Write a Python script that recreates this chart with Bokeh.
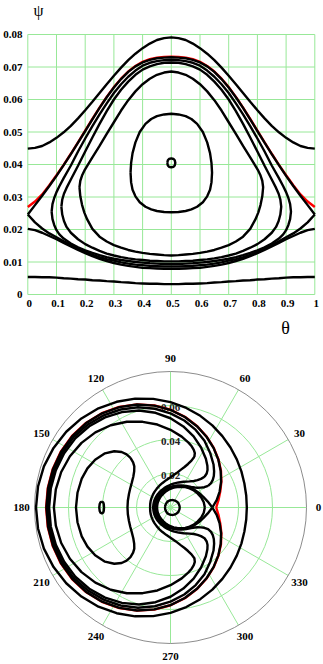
import numpy as np
from bokeh.plotting import figure
from bokeh.layouts import column
from bokeh.models import Range1d
from bokeh.core.properties import value
from bokeh.embed import file_html
from bokeh.resources import INLINE

# ---------------- data ----------------
X_TICKS = [0, 0.1, 0.2, 0.3, 0.4, 0.5, 0.6, 0.7, 0.8, 0.9, 1.0]
X_LABELS = ["0", "0.1", "0.2", "0.3", "0.4", "0.5", "0.6", "0.7", "0.8", "0.9", "1"]
Y_TICKS = [0, 0.01, 0.02, 0.03, 0.04, 0.05, 0.06, 0.07, 0.08]
Y_LABELS = ["0", "0.01", "0.02", "0.03", "0.04", "0.05", "0.06", "0.07", "0.08"]
X_NAME = "θ"
Y_NAME = "ψ"
ANGLE_TICKS = [0, 30, 60, 90, 120, 150, 180, 210, 240, 270, 300, 330]
RADIAL_TICKS = [0.02, 0.04, 0.06]
RADIAL_LABELS = ["0.02", "0.04", "0.06"]
RADIAL_MAX = 0.08

# open curves, sampled on a common theta grid
THETA = [0, 0.025, 0.05, 0.075, 0.1, 0.125, 0.15, 0.175, 0.2, 0.225, 0.25, 0.275, 0.3,
         0.325, 0.35, 0.375, 0.4, 0.425, 0.45, 0.475, 0.5, 0.525, 0.55, 0.575, 0.6,
         0.625, 0.65, 0.675, 0.7, 0.725, 0.75, 0.775, 0.8, 0.825, 0.85, 0.875, 0.9,
         0.925, 0.95, 0.975, 1.0]
PSI_TOP = [0.0449, 0.0451, 0.0457, 0.0468, 0.0482, 0.0499, 0.0519, 0.0542, 0.0567, 0.0593,
           0.0620, 0.0647, 0.0673, 0.0698, 0.0721, 0.0741, 0.0758, 0.0772, 0.0783, 0.0789,
           0.0791, 0.0789, 0.0783, 0.0772, 0.0758, 0.0741, 0.0721, 0.0698, 0.0673, 0.0647,
           0.0620, 0.0593, 0.0567, 0.0542, 0.0519, 0.0499, 0.0482, 0.0468, 0.0457, 0.0451, 0.0449]
PSI_RED = [0.0269, 0.0286, 0.0308, 0.0336, 0.0367, 0.0399, 0.0433, 0.0468, 0.0504, 0.0540,
           0.0575, 0.0608, 0.0638, 0.0664, 0.0686, 0.0703, 0.0716, 0.0724, 0.0729, 0.0731,
           0.0732, 0.0731, 0.0729, 0.0724, 0.0716, 0.0703, 0.0686, 0.0664, 0.0638, 0.0608,
           0.0575, 0.0540, 0.0504, 0.0468, 0.0433, 0.0399, 0.0367, 0.0336, 0.0308, 0.0286, 0.0269]
PSI_SEP_UP = [0.0246, 0.0275, 0.0304, 0.0334, 0.0365, 0.0398, 0.0432, 0.0467, 0.0503, 0.0539,
              0.0574, 0.0607, 0.0637, 0.0663, 0.0685, 0.0702, 0.0714, 0.0722, 0.0727, 0.0729,
              0.0730, 0.0729, 0.0727, 0.0722, 0.0714, 0.0702, 0.0685, 0.0663, 0.0637, 0.0607,
              0.0574, 0.0539, 0.0503, 0.0467, 0.0432, 0.0398, 0.0365, 0.0334, 0.0304, 0.0275, 0.0246]
PSI_SEP_LO = [0.0246, 0.0222, 0.0203, 0.0188, 0.0176, 0.0164, 0.0152, 0.0141, 0.0131, 0.0122,
              0.0115, 0.0109, 0.0104, 0.0099, 0.0095, 0.0092, 0.0090, 0.0088, 0.0087, 0.0086,
              0.0086, 0.0086, 0.0087, 0.0088, 0.0090, 0.0092, 0.0095, 0.0099, 0.0104, 0.0109,
              0.0115, 0.0122, 0.0131, 0.0141, 0.0152, 0.0164, 0.0176, 0.0188, 0.0203, 0.0222, 0.0246]
PSI_UNDER = [0.0202, 0.0198, 0.0190, 0.0180, 0.0170, 0.0159, 0.0148, 0.0137, 0.0127, 0.0118,
             0.0110, 0.0103, 0.0097, 0.0092, 0.0088, 0.0085, 0.0082, 0.0081, 0.0080, 0.0079,
             0.0079, 0.0079, 0.0080, 0.0081, 0.0082, 0.0085, 0.0088, 0.0092, 0.0097, 0.0103,
             0.0110, 0.0118, 0.0127, 0.0137, 0.0148, 0.0159, 0.0170, 0.0180, 0.0190, 0.0198, 0.0202]
PSI_BOTTOM = [0.0054, 0.0054, 0.0053, 0.0053, 0.0052, 0.0050, 0.0049, 0.0047, 0.0046, 0.0044,
              0.0043, 0.0041, 0.0040, 0.0038, 0.0037, 0.0035, 0.0034, 0.0033, 0.0033, 0.0032,
              0.0032, 0.0032, 0.0033, 0.0033, 0.0034, 0.0035, 0.0037, 0.0038, 0.0040, 0.0041,
              0.0043, 0.0044, 0.0046, 0.0047, 0.0049, 0.0050, 0.0052, 0.0053, 0.0053, 0.0054, 0.0054]

# closed curves: theta samples with upper and lower branch
C1_T = [0.083, 0.086, 0.092, 0.1, 0.11, 0.125, 0.15, 0.175, 0.2, 0.225, 0.25, 0.275, 0.3, 0.325,
        0.35, 0.375, 0.4, 0.425, 0.45, 0.475, 0.5, 0.525, 0.55, 0.575, 0.6, 0.625, 0.65, 0.675,
        0.7, 0.725, 0.75, 0.775, 0.8, 0.825, 0.85, 0.875, 0.89, 0.9, 0.908, 0.914, 0.917]
C1_UP = [0.0255, 0.0278, 0.0297, 0.0315, 0.0333, 0.0358, 0.0397, 0.0440, 0.0480, 0.0518, 0.0554,
         0.0588, 0.0620, 0.0647, 0.0670, 0.0689, 0.0704, 0.0713, 0.0718, 0.0721, 0.0722, 0.0721,
         0.0718, 0.0713, 0.0704, 0.0689, 0.0670, 0.0647, 0.0620, 0.0588, 0.0554, 0.0518, 0.0480,
         0.0440, 0.0397, 0.0358, 0.0333, 0.0315, 0.0297, 0.0278, 0.0255]
C1_LO = [0.0255, 0.0232, 0.0214, 0.0198, 0.0185, 0.0172, 0.0157, 0.0145, 0.0136, 0.0128, 0.0121,
         0.0115, 0.0110, 0.0106, 0.0103, 0.0100, 0.0098, 0.0096, 0.0095, 0.0094, 0.0094, 0.0094,
         0.0095, 0.0096, 0.0098, 0.0100, 0.0103, 0.0106, 0.0110, 0.0115, 0.0121, 0.0128, 0.0136,
         0.0145, 0.0157, 0.0172, 0.0185, 0.0198, 0.0214, 0.0232, 0.0255]

C2_T = [0.117, 0.12, 0.126, 0.135, 0.15, 0.175, 0.2, 0.225, 0.25, 0.275, 0.3, 0.325, 0.35, 0.375,
        0.4, 0.425, 0.45, 0.475, 0.5, 0.525, 0.55, 0.575, 0.6, 0.625, 0.65, 0.675, 0.7, 0.725,
        0.75, 0.775, 0.8, 0.825, 0.85, 0.865, 0.874, 0.88, 0.883]
C2_UP = [0.0270, 0.0292, 0.0310, 0.0328, 0.0354, 0.0396, 0.0440, 0.0483, 0.0525, 0.0564, 0.0600,
         0.0630, 0.0655, 0.0676, 0.0692, 0.0702, 0.0709, 0.0713, 0.0714, 0.0713, 0.0709, 0.0702,
         0.0692, 0.0676, 0.0655, 0.0630, 0.0600, 0.0564, 0.0525, 0.0483, 0.0440, 0.0396, 0.0354,
         0.0328, 0.0310, 0.0292, 0.0270]
C2_LO = [0.0270, 0.0246, 0.0226, 0.0208, 0.0190, 0.0170, 0.0155, 0.0144, 0.0134, 0.0126, 0.0120,
         0.0115, 0.0111, 0.0108, 0.0106, 0.0104, 0.0103, 0.0102, 0.0102, 0.0102, 0.0103, 0.0104,
         0.0106, 0.0108, 0.0111, 0.0115, 0.0120, 0.0126, 0.0134, 0.0144, 0.0155, 0.0170, 0.0190,
         0.0208, 0.0226, 0.0246, 0.0270]

C3_T = [0.180, 0.183, 0.189, 0.197, 0.207, 0.225, 0.25, 0.275, 0.3, 0.325, 0.35, 0.375, 0.4,
        0.425, 0.45, 0.475, 0.5, 0.525, 0.55, 0.575, 0.6, 0.625, 0.65, 0.675, 0.7, 0.725, 0.75,
        0.775, 0.793, 0.803, 0.811, 0.817, 0.820]
C3_UP = [0.0330, 0.0350, 0.0366, 0.0381, 0.0396, 0.0422, 0.0457, 0.0494, 0.0530, 0.0566, 0.0598,
         0.0625, 0.0647, 0.0664, 0.0676, 0.0683, 0.0686, 0.0683, 0.0676, 0.0664, 0.0647, 0.0625,
         0.0598, 0.0566, 0.0530, 0.0494, 0.0457, 0.0422, 0.0396, 0.0381, 0.0366, 0.0350, 0.0330]
C3_LO = [0.0330, 0.0302, 0.0276, 0.0252, 0.0231, 0.0202, 0.0178, 0.0163, 0.0152, 0.0144, 0.0137,
         0.0132, 0.0128, 0.0125, 0.0123, 0.0121, 0.0120, 0.0121, 0.0123, 0.0125, 0.0128, 0.0132,
         0.0137, 0.0144, 0.0152, 0.0163, 0.0178, 0.0202, 0.0231, 0.0252, 0.0276, 0.0302, 0.0330]

C4_T = [0.358, 0.36, 0.365, 0.375, 0.39, 0.41, 0.43, 0.45, 0.475, 0.5,
        0.525, 0.55, 0.57, 0.59, 0.61, 0.625, 0.635, 0.64, 0.642]
C4_UP = [0.0375, 0.0405, 0.0435, 0.0468, 0.0500, 0.0525, 0.0540, 0.0549, 0.0554, 0.0556,
         0.0554, 0.0549, 0.0540, 0.0525, 0.0500, 0.0468, 0.0435, 0.0405, 0.0375]
C4_LO = [0.0375, 0.0345, 0.0322, 0.0302, 0.0284, 0.0270, 0.0262, 0.0257, 0.0254, 0.0253,
         0.0254, 0.0257, 0.0262, 0.0270, 0.0284, 0.0302, 0.0322, 0.0345, 0.0375]

C5_T = [0.486, 0.488, 0.492, 0.5, 0.508, 0.512, 0.514]
C5_UP = [0.0405, 0.0413, 0.0417, 0.0419, 0.0417, 0.0413, 0.0405]
C5_LO = [0.0405, 0.0397, 0.0393, 0.0391, 0.0393, 0.0397, 0.0405]

# ---------------- styling ----------------
GREEN = "#98e898"
FONT = "Liberation Serif"
LW = 2.4
W = 323

open_black = [PSI_TOP, PSI_SEP_UP, PSI_SEP_LO, PSI_UNDER, PSI_BOTTOM]
closed = [(C1_T, C1_UP, C1_LO), (C2_T, C2_UP, C2_LO), (C3_T, C3_UP, C3_LO),
          (C4_T, C4_UP, C4_LO), (C5_T, C5_UP, C5_LO)]


def closed_path(t, up, lo):
    return list(t) + list(t)[::-1], list(up) + list(lo)[::-1]


# ---------------- Cartesian chart (frame = whole canvas) ----------------
H1 = 340
SX = 287.0   # px per unit theta
SY = 3250.0  # px per unit psi
X0 = 27.3    # canvas x of theta = 0
Y0 = 294.0   # canvas y of psi = 0
x_rng = Range1d(-X0 / SX, (W - X0) / SX)
y_rng = Range1d(-(H1 - Y0) / SY, Y0 / SY)
p1 = figure(width=W, height=H1, x_range=x_rng, y_range=y_rng,
            x_axis_location=None, y_axis_location=None, min_border=0,
            output_backend="svg", toolbar_location=None)
p1.outline_line_color = None
p1.xgrid.visible = False
p1.ygrid.visible = False

x_lo, x_hi = X_TICKS[0], X_TICKS[-1]
y_lo, y_hi = Y_TICKS[0], Y_TICKS[-1]
p1.segment(x0=X_TICKS, y0=[y_lo] * len(X_TICKS), x1=X_TICKS, y1=[y_hi] * len(X_TICKS),
           line_color=GREEN, line_width=1)
p1.segment(x0=[x_lo] * len(Y_TICKS), y0=Y_TICKS, x1=[x_hi] * len(Y_TICKS), y1=Y_TICKS,
           line_color=GREEN, line_width=1)

# tick labels
p1.text(x=[t + 1.5 / SX for t in X_TICKS], y=[y_lo - 8.5 / SY] * len(X_TICKS), text=X_LABELS,
        text_font=value(FONT), text_font_style="bold", text_font_size="11px",
        text_align="center", text_baseline="middle", text_color="black")
p1.text(x=[x_lo - 5.3 / SX] * len(Y_TICKS), y=Y_TICKS, text=Y_LABELS, text_font=value(FONT),
        text_font_style="bold", text_font_size="11px", text_align="right",
        text_baseline="middle", text_color="black")
# axis names
p1.text(x=[x_lo + 10.7 / SX], y=[y_rng.end - 10 / SY], text=[Y_NAME], text_font=value(FONT),
        text_font_size="16px", text_align="center", text_baseline="middle", text_color="black")
p1.text(x=[x_lo + 257.7 / SX], y=[y_rng.start + 13 / SY], text=[X_NAME], text_font=value(FONT),
        text_font_size="18px", text_align="center", text_baseline="middle", text_color="black")

p1.line(THETA, PSI_RED, line_color="red", line_width=LW)
for psi in open_black:
    p1.line(THETA, psi, line_color="black", line_width=LW)
for t, up, lo in closed:
    xs, ys = closed_path(t, up, lo)
    p1.line(xs, ys, line_color="black", line_width=LW)

# ---------------- polar chart ----------------
H2 = 324
PX = 1700.0  # px per unit of psi
CX, CY = 170.0, 167.0  # canvas position of the pole
p2 = figure(width=W, height=H2,
            x_range=Range1d(-CX / PX, (W - CX) / PX),
            y_range=Range1d(-(H2 - CY) / PX, CY / PX),
            x_axis_location=None, y_axis_location=None, min_border=0,
            output_backend="svg", toolbar_location=None)
p2.outline_line_color = None
p2.xgrid.visible = False
p2.ygrid.visible = False

ang = np.deg2rad(np.array(ANGLE_TICKS, dtype=float))
p2.segment(x0=np.zeros(len(ang)), y0=np.zeros(len(ang)),
           x1=RADIAL_MAX * np.cos(ang), y1=RADIAL_MAX * np.sin(ang),
           line_color=GREEN, line_width=1)
p2.circle(x=[0] * len(RADIAL_TICKS), y=[0] * len(RADIAL_TICKS), radius=RADIAL_TICKS,
          fill_color=None, line_color=GREEN, line_width=1)
p2.circle(x=[0], y=[0], radius=[RADIAL_MAX], fill_color=None, line_color="#8c8c8c", line_width=1)

lab_r = RADIAL_MAX + 13 / PX
lx = np.minimum(lab_r * np.cos(ang), p2.x_range.end - 5 / PX)
ly = np.maximum(lab_r * np.sin(ang), p2.y_range.start + 6 / PX)
p2.text(x=lx, y=ly, text=[str(a) for a in ANGLE_TICKS], text_font=value(FONT),
        text_font_style="bold", text_font_size="11px", text_align="center",
        text_baseline="middle", text_color="black")
p2.text(x=[0] * len(RADIAL_TICKS), y=[r - 2 / PX for r in RADIAL_TICKS], text=RADIAL_LABELS,
        text_font=value(FONT), text_font_style="bold", text_font_size="11px",
        text_align="center", text_baseline="middle", text_color="#222222")


def to_xy(t, psi):
    t = np.asarray(t, dtype=float)
    psi = np.asarray(psi, dtype=float)
    a = 2 * np.pi * t
    return psi * np.cos(a), psi * np.sin(a)


x, y = to_xy(THETA, PSI_RED)
p2.line(x, y, line_color="red", line_width=LW)
for psi in open_black:
    x, y = to_xy(THETA, psi)
    p2.line(x, y, line_color="black", line_width=LW)
for t, up, lo in closed:
    xs, ys = closed_path(t, up, lo)
    x, y = to_xy(xs, ys)
    p2.line(x, y, line_color="black", line_width=LW)

layout = column(p1, p2, spacing=0)
open("out.html", "w").write(file_html(layout, INLINE))
